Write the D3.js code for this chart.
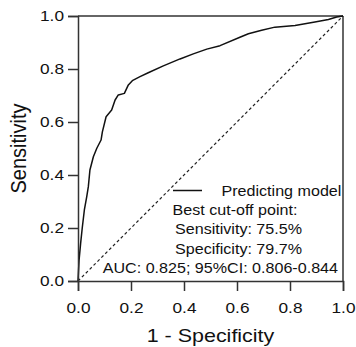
<!DOCTYPE html>
<html>
<head>
<meta charset="utf-8">
<script src="https://cdn.jsdelivr.net/npm/d3@7"></script>
<style>
body { margin: 0; background: #fff; }
svg { display: block; font-family: "Liberation Sans", Arial, sans-serif; }
</style>
</head>
<body>
<svg id="chart" width="356" height="347"></svg>
<script>
// ROC curve (1 - specificity, sensitivity)
var fpr = [0, 0.004, 0.010, 0.016, 0.024, 0.033, 0.039, 0.045, 0.058, 0.071, 0.087, 0.092, 0.106, 0.127, 0.140, 0.152, 0.175, 0.190, 0.205, 0.234, 0.265, 0.322, 0.385, 0.435, 0.486, 0.536, 0.611, 0.643, 0.693, 0.743, 0.819, 0.894, 0.945, 0.976, 1];
var tpr = [0, 0.079, 0.143, 0.200, 0.268, 0.318, 0.356, 0.419, 0.469, 0.501, 0.532, 0.563, 0.620, 0.645, 0.683, 0.702, 0.708, 0.740, 0.756, 0.771, 0.786, 0.812, 0.838, 0.857, 0.875, 0.888, 0.920, 0.933, 0.946, 0.958, 0.964, 0.977, 0.987, 0.996, 1];
var ticks = [0, 0.2, 0.4, 0.6, 0.8, 1.0];
var legendLabel = "Predicting model";
var notes = ["Best cut-off point:", "Sensitivity: 75.5%", "Specificity: 79.7%", "AUC: 0.825; 95%CI: 0.806-0.844"];

var sx = 1.15; // text in the picture is a bit wider than plain Arial
var pLeft = 78, pRight = 343, pTop = 16, pBottom = 281;
var svg = d3.select("#chart");

var xScale = d3.scaleLinear().domain([0, 1]).range([pLeft, pRight]);
var yScale = d3.scaleLinear().domain([0, 1]).range([pBottom, pTop]);
var axisColor = "#333";

// frame top/right
svg.append("line").attr("x1", pLeft).attr("x2", pRight).attr("y1", pTop).attr("y2", pTop)
	.style("stroke", axisColor).style("stroke-width", 1.5);
svg.append("line").attr("x1", pRight).attr("x2", pRight).attr("y1", pTop).attr("y2", pBottom)
	.style("stroke", axisColor).style("stroke-width", 1.5);

// diagonal reference
svg.append("line")
	.attr("x1", xScale(0)).attr("y1", yScale(0))
	.attr("x2", xScale(1)).attr("y2", yScale(1))
	.style("stroke", "#222").style("stroke-width", 1.2).style("stroke-dasharray", "3,2.5");

// curve
var pts = fpr.map((d, i) => [d, tpr[i]]);
svg.append("path")
	.datum(pts)
	.attr("d", d3.line().x(d => xScale(d[0])).y(d => yScale(d[1])))
	.style("fill", "none").style("stroke", "#111").style("stroke-width", 1.5)
	.style("stroke-linejoin", "round");

// axes
var yAxis = svg.append("g").attr("transform", "translate(" + pLeft + ",0)")
	.call(d3.axisLeft(yScale).tickValues(ticks).tickFormat(d3.format(".1f")).tickSize(10).tickPadding(4));
var xAxis = svg.append("g").attr("transform", "translate(0," + pBottom + ")")
	.call(d3.axisBottom(xScale).tickValues(ticks).tickFormat(d3.format(".1f")).tickSize(10).tickPadding(11));

[yAxis, xAxis].forEach(function(a) {
	a.select(".domain").style("stroke", axisColor).style("stroke-width", 1.5);
	a.selectAll(".tick line").style("stroke", axisColor).style("stroke-width", 1.5);
	a.selectAll(".tick text").style("font-size", "15px").style("fill", "#111")
		.style("font-family", "'Liberation Sans', Arial, sans-serif");
});
yAxis.selectAll(".tick text").attr("x", -14 / sx).attr("transform", "scale(" + sx + ",1)");
xAxis.selectAll(".tick text").attr("transform", "scale(" + sx + ",1)");

// axis titles
svg.append("text")
	.attr("transform", "translate(26," + ((pTop + pBottom) / 2) + ") scale(1.1,1) rotate(-90)")
	.attr("text-anchor", "middle")
	.style("font-size", "20px").style("fill", "#111")
	.text("Sensitivity");
svg.append("text")
	.attr("transform", "translate(" + ((pLeft + pRight) / 2) + ",341.5) scale(1.13,1)")
	.attr("text-anchor", "middle")
	.style("font-size", "19px").style("fill", "#111")
	.text("1 - Specificity");

// legend
svg.append("line").attr("x1", 173).attr("x2", 202).attr("y1", 190.5).attr("y2", 190.5)
	.style("stroke", "#111").style("stroke-width", 1.5);
function stretchedText(x, y, str, anchor) {
	svg.append("text")
		.attr("transform", "translate(" + x + "," + y + ") scale(" + sx + ",1)")
		.attr("text-anchor", anchor)
		.style("font-size", "14px").style("fill", "#111")
		.text(str);
}
stretchedText(221.5, 196, legendLabel, "start");
stretchedText(172.5, 215, notes[0], "start");
stretchedText(175, 234.3, notes[1], "start");
stretchedText(175, 253.5, notes[2], "start");
stretchedText(338, 273.3, notes[3], "end");
</script>
</body>
</html>
